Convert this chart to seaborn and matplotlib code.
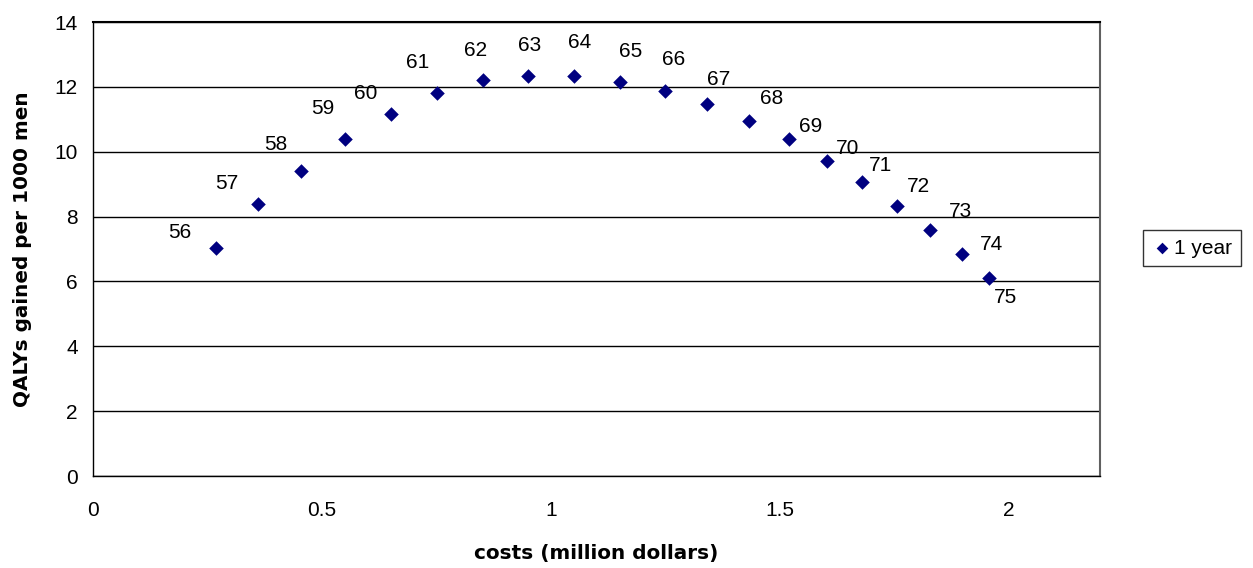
import matplotlib
matplotlib.use("Agg")
import matplotlib.pyplot as plt
import seaborn as sns
import pandas as pd

# Screening start age and the corresponding cost / benefit pairs
ages = [56, 57, 58, 59, 60, 61, 62, 63, 64, 65, 66, 67, 68, 69, 70, 71, 72, 73, 74, 75]
costs = [0.268, 0.360, 0.454, 0.550, 0.651, 0.752, 0.851, 0.950, 1.050, 1.151,
         1.250, 1.342, 1.434, 1.520, 1.603, 1.680, 1.757, 1.829, 1.899, 1.958]
qalys = [7.03, 8.39, 9.40, 10.39, 11.16, 11.81, 12.21, 12.33, 12.33, 12.15,
         11.87, 11.47, 10.95, 10.39, 9.71, 9.07, 8.33, 7.59, 6.85, 6.11]

# Label offsets (points) relative to each marker
label_dx = [-26, -22, -18, -16, -18, -14, -5, 1, 4, 8, 6, 8, 16, 16, 15, 13, 15, 22, 21, 12]
label_dy = [11, 15, 19, 22, 15, 22, 21, 22, 24, 22, 23, 18, 16, 9, 9, 12, 14, 13, 7, -14]

df = pd.DataFrame({"costs": costs, "qalys": qalys, "series": "1 year"})

sns.set_style("white")
plt.rcParams["font.family"] = ["Liberation Sans", "DejaVu Sans"]
plt.rcParams["text.color"] = "black"
plt.rcParams["axes.labelcolor"] = "black"

fig = plt.figure(figsize=(12.53, 5.68), dpi=100)
ax = fig.add_axes([93 / 1253, 1 - 476 / 568, (1100 - 93) / 1253, (476 - 22) / 568])

sns.scatterplot(data=df, x="costs", y="qalys", marker="D", color="#000080",
                s=55, edgecolor="#000080", linewidth=0, label="1 year",
                ax=ax, zorder=3, legend=True)

for a, x, y, dx, dy in zip(ages, costs, qalys, label_dx, label_dy):
    ax.annotate(str(a), (x, y), xytext=(dx, dy), textcoords="offset points",
                ha="center", va="center", fontsize=15, color="black")

ax.set_xlim(0, 2.2)
ax.set_ylim(0, 14)
ax.set_xticks([0, 0.5, 1, 1.5, 2])
ax.set_xticklabels(["0", "0.5", "1", "1.5", "2"])
ax.set_yticks(range(0, 15, 2))
ax.tick_params(axis="both", direction="out", length=5, width=1, colors="black",
               labelsize=15)
ax.tick_params(axis="x", pad=13)
ax.tick_params(axis="y", pad=6)
ax.yaxis.grid(True, color="black", linewidth=1)
ax.xaxis.grid(False)
for sp in ax.spines.values():
    sp.set_visible(True)
    sp.set_color("black")
    sp.set_linewidth(1)
ax.spines["top"].set_linewidth(1.5)
ax.spines["right"].set_color("#606060")
ax.spines["right"].set_linewidth(1.5)

title_font = {"family": "DejaVu Sans", "size": 14.4, "weight": "bold", "color": "black"}
ax.set_xlabel("costs (million dollars)", fontdict=title_font, labelpad=17)
ax.set_ylabel("QALYs gained per 1000 men", fontdict=title_font, labelpad=16)

leg = ax.legend(loc="center", bbox_to_anchor=(1192 / 1253, 1 - 248 / 568),
                bbox_transform=fig.transFigure, fontsize=15, frameon=True,
                fancybox=False, edgecolor="black", handletextpad=0.1,
                handlelength=1.0, borderpad=0.4, borderaxespad=0,
                markerscale=0.8)
leg.get_frame().set_linewidth(1)
for t in leg.get_texts():
    t.set_color("black")

fig.savefig("out.png", dpi=100, facecolor="white")
